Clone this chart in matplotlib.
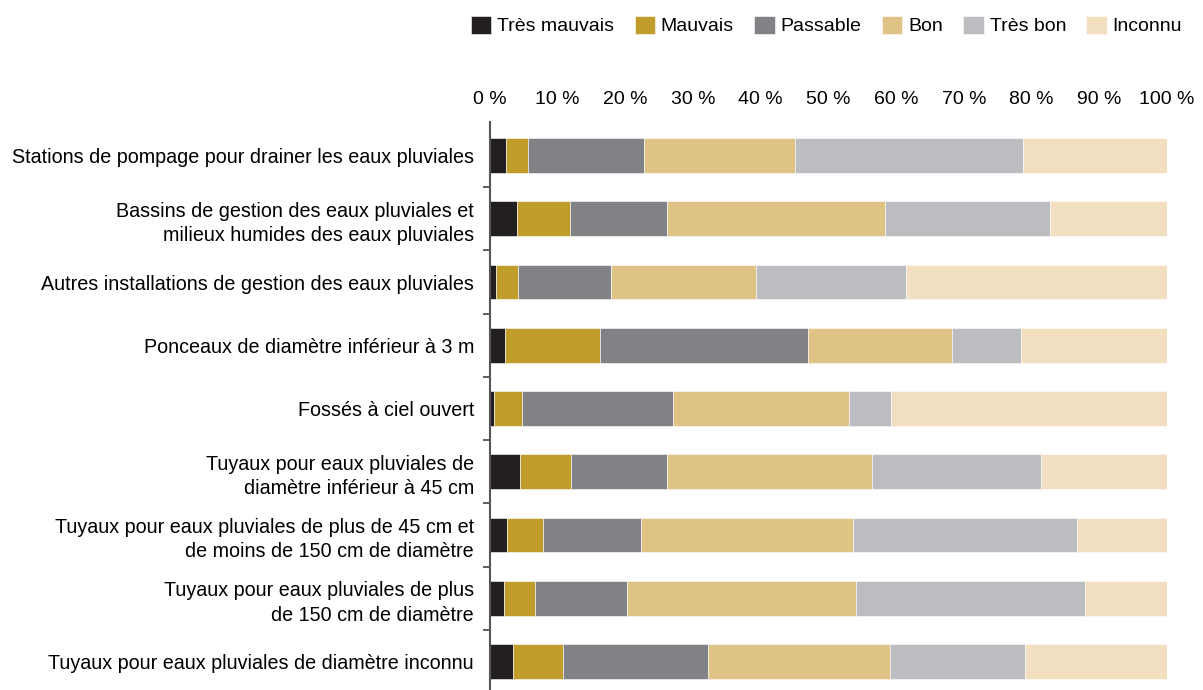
import matplotlib.pyplot as plt
import numpy as np

plt.rcParams['font.family'] = ['Liberation Sans', 'DejaVu Sans']

categories = [
    "Stations de pompage pour drainer les eaux pluviales",
    "Bassins de gestion des eaux pluviales et\nmilieux humides des eaux pluviales",
    "Autres installations de gestion des eaux pluviales",
    "Ponceaux de diamètre inférieur à 3 m",
    "Fossés à ciel ouvert",
    "Tuyaux pour eaux pluviales de\ndiamètre inférieur à 45 cm",
    "Tuyaux pour eaux pluviales de plus de 45 cm et\nde moins de 150 cm de diamètre",
    "Tuyaux pour eaux pluviales de plus\nde 150 cm de diamètre",
    "Tuyaux pour eaux pluviales de diamètre inconnu",
]

series = ["Très mauvais", "Mauvais", "Passable", "Bon", "Très bon", "Inconnu"]
colors = ["#231f20", "#c09d2b", "#818285", "#dfc384", "#bcbdc0", "#f2dfbf"]

tres_mauvais = [2.4, 4.0, 0.9, 2.2, 0.6, 4.5, 2.5, 2.0, 3.4]
mauvais      = [3.2, 7.8, 3.2, 14.1, 4.1, 7.5, 5.4, 4.6, 7.4]
passable     = [17.1, 14.4, 13.7, 30.7, 22.3, 14.1, 14.4, 13.6, 21.4]
bon          = [22.4, 32.1, 21.5, 21.2, 26.1, 30.3, 31.3, 33.9, 26.9]
tres_bon     = [33.6, 24.4, 22.2, 10.2, 6.1, 25.0, 33.1, 33.8, 19.9]
inconnu      = [21.3, 17.3, 38.5, 21.6, 40.8, 18.6, 13.3, 12.1, 21.0]

data = [tres_mauvais, mauvais, passable, bon, tres_bon, inconnu]

fig = plt.figure(figsize=(12.03, 6.9), dpi=100)
ax = fig.add_axes([490 / 1203, 0, (1167 - 490) / 1203, 1 - 122 / 690])

y = np.arange(len(categories))
left = np.zeros(len(categories))
for name, vals, c in zip(series, data, colors):
    vals = np.array(vals)
    ax.barh(y, vals, left=left, height=0.55, color=c, label=name,
            edgecolor='white', linewidth=0.4)
    left += vals

ax.set_xlim(0, 100)
ax.set_ylim(8.45, -0.53)
ax.xaxis.tick_top()
ax.set_xticks(np.arange(0, 101, 10))
ax.set_xticklabels([f"{v} %" for v in range(0, 101, 10)], fontsize=14)
ax.tick_params(axis='x', length=0, pad=10)

ax.set_yticks(y)
ax.set_yticklabels(categories, fontsize=14.2, linespacing=1.35)
ax.tick_params(axis='y', length=0, pad=11.5)
ax.set_yticks(np.arange(0.5, len(categories) - 0.5, 1), minor=True)
ax.tick_params(axis='y', which='minor', length=5, width=1.2, color='#444444')

for s in ['top', 'right', 'bottom']:
    ax.spines[s].set_visible(False)
ax.spines['left'].set_color('#555555')
ax.spines['left'].set_linewidth(1.5)

fig.legend(loc='upper right', bbox_to_anchor=(1190 / 1203, 1 - 8 / 690), ncol=6,
           frameon=False, fontsize=14, handlelength=1.05, handleheight=1.05,
           handletextpad=0.3, columnspacing=1.05, borderaxespad=0)

fig.savefig("out.png", dpi=100)
